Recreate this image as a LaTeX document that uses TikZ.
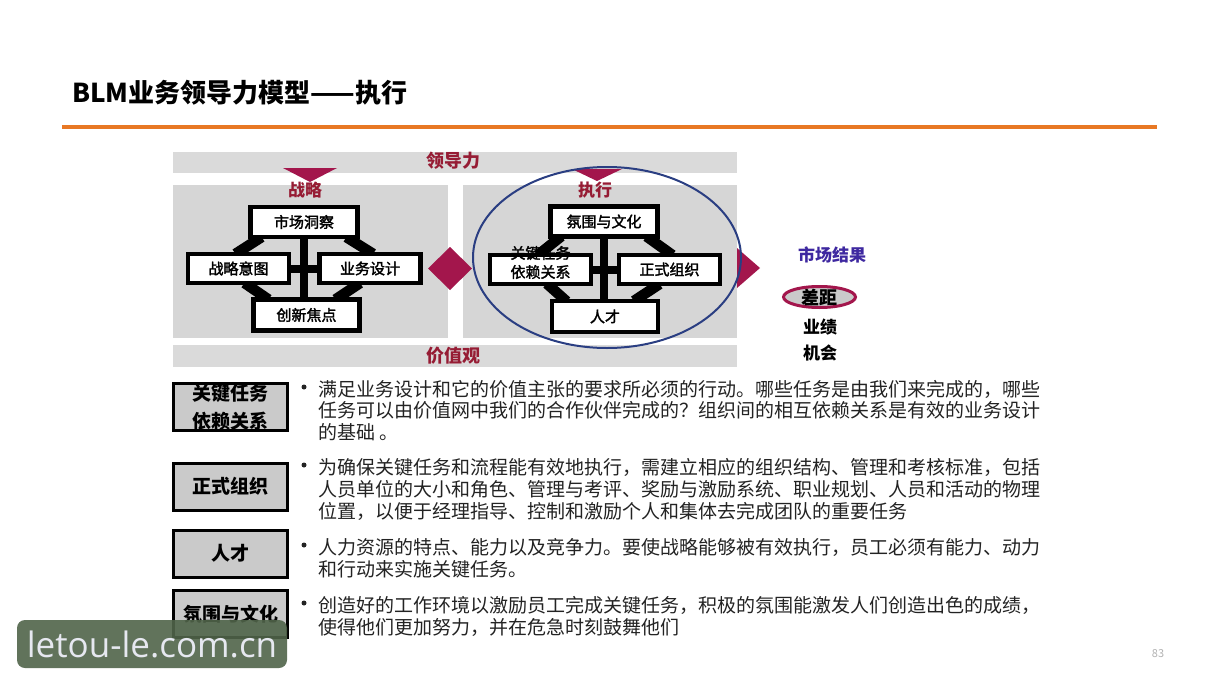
\documentclass[tikz,border=0pt]{standalone}
\usepackage{fontspec}
\setmainfont{Noto Sans CJK SC}
\newfontfamily\semib{Noto Sans CJK SC}[FakeBold=2]
\newfontfamily\wmfont{Open Sans}
\usetikzlibrary{shapes.geometric}
\pgfdeclarelayer{bg}
\pgfdeclarelayer{mid}
\pgfsetlayers{bg,mid,main}
\definecolor{crim}{RGB}{163,22,76}
\definecolor{darkred}{RGB}{150,28,52}
\definecolor{panelgray}{RGB}{214,214,214}
\definecolor{bandgray}{RGB}{218,218,218}
\definecolor{labgray}{RGB}{202,202,202}
\definecolor{ringblue}{RGB}{42,62,130}
\definecolor{mktblue}{RGB}{62,40,160}
\definecolor{orangeline}{RGB}{232,120,36}
\definecolor{wmgreen}{RGB}{80,100,74}
\definecolor{bodytext}{RGB}{35,35,35}
\newcommand\myfs[1]{\fontsize{#1}{#1}\selectfont}
\begin{document}
\begin{tikzpicture}[x=1pt,y=-1pt,
  mbox/.style={draw=black, line width=4.5pt, fill=white, inner sep=0pt, font=\semib\myfs{15pt}},
  sidebox/.style={mbox, minimum width=101pt, minimum height=29pt},
  topbox/.style={mbox, minimum width=107pt, minimum height=30pt},
  botbox/.style={mbox, minimum width=106pt, minimum height=31pt},
  band/.style={line width=10.5pt, black, shorten <=-4pt, shorten >=-4pt},
  crossbar/.style={line width=8pt, black},
  hdr/.style={inner sep=0pt, font=\myfs{18pt}\bfseries, text=darkred},
  sub/.style={inner sep=0pt, font=\myfs{17pt}\bfseries, text=darkred},
  res/.style={inner sep=0pt, font=\myfs{17pt}\bfseries, text=black},
  lab/.style={draw=black, line width=3pt, fill=labgray, minimum width=114pt, minimum height=47pt, inner sep=0pt, align=center, font=\fontsize{19pt}{28pt}\selectfont\bfseries},
  body/.style={anchor=west, inner sep=0pt, font=\myfs{19pt}, text=bodytext},
  bul/.style={circle, fill=bodytext, inner sep=0pt, minimum size=5pt}
]
\useasboundingbox (0,0) rectangle (1219,685);

% background bands and panels
\begin{pgfonlayer}{bg}
\fill[white] (0,0) rectangle (1219,685);
\fill[bandgray] (173,152) rectangle (737,173);
\fill[bandgray] (173,345) rectangle (737,367);
\fill[panelgray] (173,185) rectangle (448,338);
\fill[panelgray] (463,185) rectangle (737,338);
\end{pgfonlayer}

% title and rule
\node[anchor=west, inner sep=0pt, font=\myfs{26pt}\bfseries] (title) at (72,93) {BLM业务领导力模型——执行};
\coordinate (ruleL) at (62,127);
\coordinate (ruleR) at (1157,127);
\draw[orangeline, line width=4pt] (ruleL) -- (ruleR);

\node[hdr] (lead) at (453,161) {领导力};
\node[hdr] (vals) at (453,356) {价值观};

% triangles
\fill[crim] (283,168) -- (337,168) -- (310,182) -- cycle;
\fill[crim] (572,169) -- (622,169) -- (597,181) -- cycle;
\node[sub] (strat) at (305,190) {战略};
\node[sub] (exec) at (595,190) {执行};

% left module
\node[topbox] (mkt) at (304,222) {市场洞察};
\node[sidebox] (intent) at (238.5,268.5) {战略意图};
\node[sidebox] (design) at (370,268.5) {业务设计};
\node[botbox] (innov) at (306.5,315) {创新焦点};
\begin{pgfonlayer}{mid}
\draw[crossbar] (mkt.south) -- (mkt.south |- innov.north);
\draw[crossbar] (intent.east) -- (design.west);
\draw[band] ([xshift=10pt]mkt.south west) -- ([xshift=53pt]intent.north west);
\draw[band] ([xshift=-10pt]mkt.south east) -- ([xshift=-53pt]design.north east);
\draw[band] ([xshift=62pt]intent.south west) -- ([xshift=14pt]innov.north west);
\draw[band] ([xshift=-66pt]design.south east) -- ([xshift=-23pt]innov.north east);
\end{pgfonlayer}

% right module
\node[topbox] (climate) at (604,221.5) {氛围与文化};
\node[sidebox] (keytask) at (540.5,269.5) {};
\node[inner sep=0pt, align=center, font=\semib\fontsize{15pt}{19pt}\selectfont] (keytasktext) at (540.5,262.5) {关键任务\\依赖关系};
\node[sidebox] (formal) at (669.5,269.5) {正式组织};
\node[botbox] (talent) at (605,316.5) {人才};
\begin{pgfonlayer}{mid}
\draw[crossbar] (climate.south) -- (climate.south |- talent.north);
\draw[crossbar] (keytask.east) -- (formal.west);
\draw[band] ([xshift=10pt]climate.south west) -- ([xshift=53pt]keytask.north west);
\draw[band] ([xshift=-10pt]climate.south east) -- ([xshift=-53pt]formal.north east);
\draw[band] ([xshift=62pt]keytask.south west) -- ([xshift=14pt]talent.north west);
\draw[band] ([xshift=-66pt]formal.south east) -- ([xshift=-23pt]talent.north east);
\end{pgfonlayer}

% arrows between panels and to results
\fill[crim] (428,268.5) -- (450,247) -- (472,268.5) -- (450,290) -- cycle;
\fill[crim] (737,248) -- (760,268) -- (737,288) -- cycle;

% execution ring
\node[ellipse, draw=ringblue, line width=2pt, minimum width=268pt, minimum height=181pt, inner sep=0pt] (ring) at (607,257.5) {};

% market results
\node[inner sep=0pt, font=\myfs{17pt}\bfseries, text=mktblue] (mktres) at (832,255) {市场结果};
\node[ellipse, draw=crim, line width=3pt, fill=labgray, minimum width=72pt, minimum height=21pt, inner sep=0pt] (gap) at (819.5,297) {};
\node[res, font=\myfs{18pt}\bfseries] (gaptext) at (819.5,297) {差距};
\node[res] (perf) at (820,327) {业绩};
\node[res] (opp) at (820,353) {机会};

% lower labels
\node[lab] (l1) at (230.5,407) {关键任务\\依赖关系};
\node[lab] (l2) at (230.5,486.5) {正式组织};
\node[lab] (l3) at (230.5,553.5) {人才};
\node[lab] (l4) at (230.5,614) {氛围与文化};

% bullets and text
\node[bul] (b1) at (304,387) {};
\node[body] (t11) at (318,389) {满足业务设计和它的价值主张的要求所必须的行动。哪些任务是由我们来完成的，哪些};
\node[body] (t12) at (318,410.5) {任务可以由价值网中我们的合作伙伴完成的？组织间的相互依赖关系是有效的业务设计};
\node[body] (t13) at (318,432) {的基础 。};

\node[bul] (b2) at (304,465) {};
\node[body] (t21) at (318,467) {为确保关键任务和流程能有效地执行，需建立相应的组织结构、管理和考核标准，包括};
\node[body] (t22) at (318,489) {人员单位的大小和角色、管理与考评、奖励与激励系统、职业规划、人员和活动的物理};
\node[body] (t23) at (318,511) {位置，以便于经理指导、控制和激励个人和集体去完成团队的重要任务};

\node[bul] (b3) at (304,545) {};
\node[body] (t31) at (318,547) {人力资源的特点、能力以及竞争力。要使战略能够被有效执行，员工必须有能力、动力};
\node[body] (t32) at (318,569) {和行动来实施关键任务。};

\node[bul] (b4) at (304,603) {};
\node[body] (t41) at (318,605) {创造好的工作环境以激励员工完成关键任务，积极的氛围能激发人们创造出色的成绩，};
\node[body] (t42) at (318,627) {使得他们更加努力，并在危急时刻鼓舞他们};

% page number
\node[inner sep=0pt, font=\myfs{11pt}, text=gray!60] (pg) at (1158,654) {83};

% watermark
\node[fill=wmgreen, fill opacity=0.9, text opacity=1, rounded corners=8pt, minimum width=270pt, minimum height=48pt, inner sep=0pt, text={rgb,255:red,230;green,232;blue,240}, font=\wmfont\myfs{35pt}] (wm) at (152,644) {letou-le.com.cn};
\end{tikzpicture}
\end{document}
